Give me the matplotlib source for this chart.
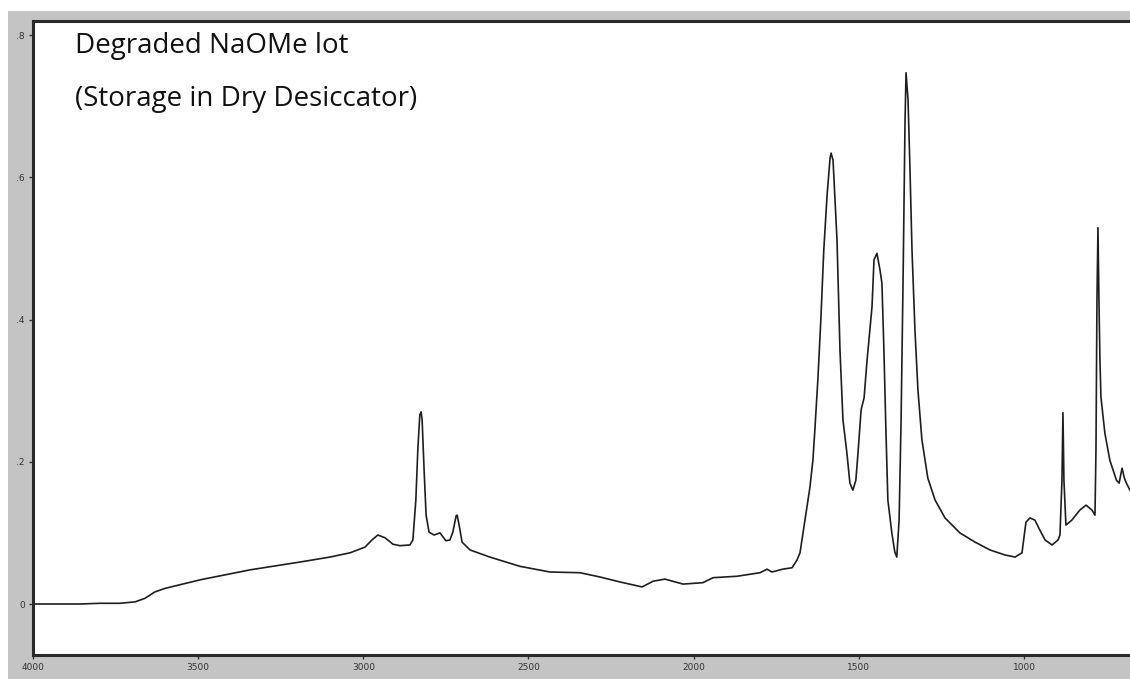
import matplotlib
matplotlib.use("Agg")
import matplotlib.pyplot as plt
from matplotlib.patches import Rectangle

# IR spectrum (wavenumber in cm-1, absorbance)
wavenumber = [
    4000, 3858, 3797, 3737, 3691, 3661, 3631, 3600, 3494, 3343,
    3192, 3101, 3040, 2995, 2974, 2956, 2934, 2910, 2889, 2859,
    2850, 2841, 2835, 2829, 2825, 2822, 2816, 2810, 2801, 2786,
    2768, 2750, 2738, 2729, 2719, 2716, 2710, 2701, 2677, 2617,
    2526, 2435, 2344, 2284, 2223, 2156, 2123, 2087, 2032, 1972,
    1941, 1869, 1799, 1778, 1763, 1730, 1702, 1687, 1678, 1663,
    1648, 1639, 1633, 1624, 1615, 1606, 1596, 1587, 1584, 1578,
    1566, 1557, 1548, 1536, 1527, 1518, 1509, 1503, 1493, 1484,
    1475, 1460, 1454, 1445, 1436, 1430, 1424, 1418, 1412, 1400,
    1391, 1385, 1378, 1372, 1366, 1360, 1357, 1351, 1345, 1339,
    1330, 1321, 1309, 1291, 1269, 1239, 1194, 1148, 1103, 1058,
    1027, 1006, 994, 982, 967, 952, 936, 915, 897, 891,
    885, 882, 879, 873, 855, 831, 812, 794, 785, 782,
    779, 776, 773, 770, 767, 755, 740, 720, 712, 703,
    696, 690, 679,
]
absorbance = [
    0.000, 0.000, 0.001, 0.001, 0.003, 0.008, 0.017, 0.022, 0.034, 0.048,
    0.059, 0.066, 0.072, 0.080, 0.090, 0.097, 0.093, 0.084, 0.082, 0.083,
    0.090, 0.146, 0.217, 0.266, 0.270, 0.259, 0.188, 0.125, 0.101, 0.097,
    0.100, 0.089, 0.090, 0.101, 0.124, 0.125, 0.111, 0.087, 0.076, 0.066,
    0.053, 0.045, 0.044, 0.038, 0.031, 0.024, 0.032, 0.035, 0.028, 0.030,
    0.037, 0.039, 0.044, 0.049, 0.045, 0.049, 0.051, 0.062, 0.072, 0.118,
    0.164, 0.202, 0.245, 0.315, 0.399, 0.498, 0.575, 0.627, 0.634, 0.624,
    0.512, 0.357, 0.259, 0.212, 0.170, 0.160, 0.174, 0.209, 0.273, 0.290,
    0.343, 0.418, 0.484, 0.493, 0.470, 0.451, 0.357, 0.245, 0.146, 0.100,
    0.073, 0.066, 0.118, 0.259, 0.456, 0.680, 0.747, 0.709, 0.610, 0.498,
    0.385, 0.301, 0.231, 0.177, 0.146, 0.121, 0.100, 0.087, 0.076, 0.069,
    0.066, 0.072, 0.115, 0.121, 0.118, 0.104, 0.090, 0.083, 0.090, 0.097,
    0.174, 0.269, 0.174, 0.111, 0.118, 0.132, 0.139, 0.132, 0.125, 0.217,
    0.427, 0.529, 0.427, 0.343, 0.291, 0.240, 0.202, 0.174, 0.170, 0.191,
    0.177, 0.170, 0.160,
]

x_ticks = [4000, 3500, 3000, 2500, 2000, 1500, 1000]
y_ticks = [0, 0.2, 0.4, 0.6, 0.8]
y_tick_labels = ["0", ".2", ".4", ".6", ".8"]
title_lines = ["Degraded NaOMe lot", "(Storage in Dry Desiccator)"]

fig = plt.figure(figsize=(11.3, 6.79), dpi=100, facecolor="white")
# gray instrument-software frame behind the plot
frame = Rectangle((8 / 1130, 0), 1, 668 / 679, transform=fig.transFigure,
                  facecolor="#c4c4c4", edgecolor="none")
fig.add_artist(frame)
frame.set_zorder(-10)

ax = fig.add_axes([33 / 1130, 24 / 679, 1 - 33 / 1130, 634 / 679])
ax.set_zorder(5)
ax.set_facecolor("white")
ax.plot(wavenumber, absorbance, color="#1e1e1e", linewidth=1.2)

ax.set_xlim(4000, 679)
ax.set_ylim(-0.0717, 0.8197)

ax.set_xticks(x_ticks)
ax.set_xticklabels([str(t) for t in x_ticks])
ax.set_yticks(y_ticks)
ax.set_yticklabels(y_tick_labels)
ax.tick_params(axis="both", labelsize=6.5, labelcolor="#333333", color="#333333",
               length=3, width=1, direction="out", pad=3)

for side in ["left", "bottom", "top"]:
    ax.spines[side].set_color("#2a2a2a")
    ax.spines[side].set_linewidth(2.2)
ax.spines["right"].set_visible(False)

ax.text(0.038, 0.949, title_lines[0], transform=ax.transAxes, fontsize=20,
        family="Open Sans", color="#111111", va="baseline")
ax.text(0.038, 0.866, title_lines[1], transform=ax.transAxes, fontsize=20,
        family="Open Sans", color="#111111", va="baseline")

fig.savefig("out.png", dpi=100, facecolor=fig.get_facecolor())
